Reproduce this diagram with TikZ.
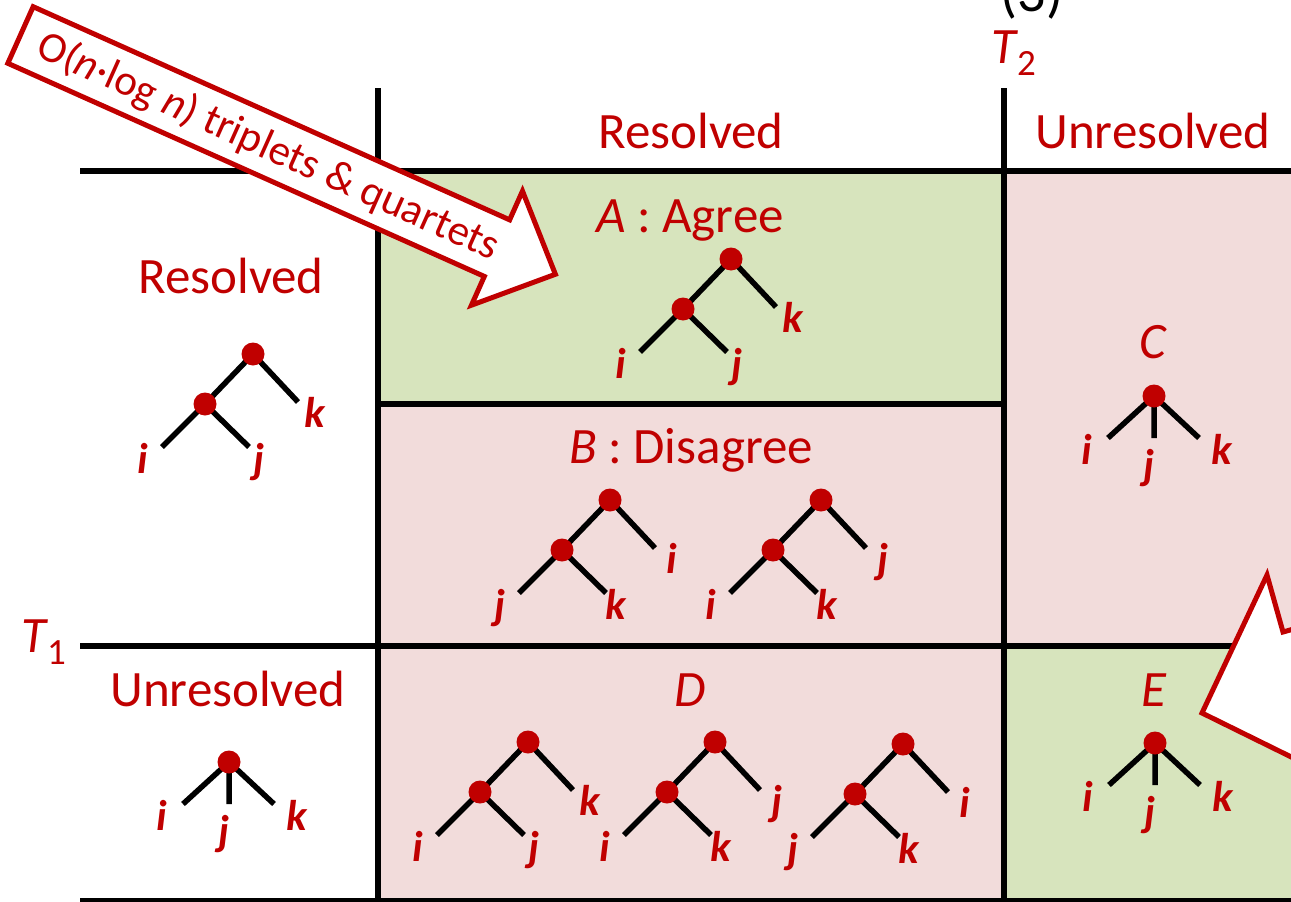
\documentclass[tikz,border=0pt]{standalone}
\usepackage{fontspec}
\setmainfont{Carlito}
\definecolor{tred}{HTML}{C00000}
\definecolor{agreefill}{HTML}{D7E4BD}
\definecolor{diffill}{HTML}{F2DCDB}
\newcommand\hfont{\fontsize{51}{51}\selectfont}
\newcommand\leaffont{\fontsize{43}{43}\selectfont\bfseries\itshape}
\newcommand\arrowfont{\fontsize{43}{43}\selectfont}
\newcommand\subfont{\fontsize{37}{37}\selectfont}
\tikzset{
  grid/.style={line width=5.5pt, draw=black},
  branch/.style={line width=5.5pt, draw=black},
  knot/.style={circle, fill=tred, inner sep=0pt, minimum size=23pt},
  leaf/.style={font=\leaffont, text=tred, inner sep=0pt, anchor=base},
  hdr/.style={font=\hfont, text=tred, inner sep=0pt, anchor=base},
  blockarrow/.style={draw=tred, fill=white, line width=5pt, line join=miter},
  % binary tree ((a,b),c): root at the origin
  pics/bintree/.style n args={3}{code={
    \coordinate (-r) at (0,0);
    \coordinate (-m) at (-48,50);
    \coordinate (-a) at (-91,93);
    \coordinate (-b) at (-4,93);
    \coordinate (-c) at (45,48);
    \draw[branch] (-r) -- (-m) (-m) -- (-a) (-m) -- (-b) (-r) -- (-c);
    \node[knot] (-rd) at (-r) {};
    \node[knot] (-md) at (-m) {};
    \node[leaf] (-la) at (-110,119) {#1};
    \node[leaf] (-lb) at (6,119) {#2};
    \node[leaf] (-lc) at (62,73) {#3};
  }},
  % star tree (i,j,k): centre at the origin
  pics/startree/.style={code={
    \coordinate (-r) at (0,0);
    \coordinate (-a) at (-46,42);
    \coordinate (-b) at (0,42);
    \coordinate (-c) at (45,42);
    \draw[branch] (-r) -- (-a) (-r) -- (-b) (-r) -- (-c);
    \node[knot] (-rd) at (-r) {};
    \node[leaf] (-la) at (-67,68) {i};
    \node[leaf] (-lb) at (-5,83) {j};
    \node[leaf] (-lc) at (68,68) {k};
  }}
}
\begin{document}
\begin{tikzpicture}[x=1pt, y=-1pt]
\useasboundingbox (0,0) rectangle (1291,902);
\clip (0,0) rectangle (1291,902);

% cell backgrounds
\fill[agreefill] (378,171) rectangle (1004,404);
\fill[diffill] (378,404) rectangle (1004,646);
\fill[diffill] (1004,171) rectangle (1291,646);
\fill[diffill] (378,646) rectangle (1004,902);
\fill[agreefill] (1004,646) rectangle (1291,902);

% table rules
\draw[grid] (80,171) -- (1291,171);
\draw[grid] (378,404) -- (1004,404);
\draw[grid] (80,646) -- (1291,646);
\draw[grid] (80,901) -- (1291,901);
\draw[grid] (378,88) -- (378,902);
\draw[grid] (1004,88) -- (1004,902);

% headers
\node[text=black, font=\fontsize{56}{56}\selectfont, inner sep=0pt, anchor=base] (title) at (1032,12) {(3)};
\node[text=tred, font=\hfont, inner sep=0pt, anchor=base west] (t2) at (991,63) {\textit{T}\kern-1pt\raisebox{-13pt}{\subfont 2}};
\node[text=tred, font=\hfont, inner sep=0pt, anchor=base west] (t1) at (21,652) {\textit{T}\kern-1pt\raisebox{-12pt}{\subfont 1}};
\node[hdr] (colres) at (691,148) {Resolved};
\node[hdr] (colunres) at (1153,148) {Unresolved};
\node[hdr] (rowres) at (231,293) {Resolved};
\node[hdr] (rowunres) at (228,706) {Unresolved};
\node[hdr] (lblA) at (690,232) {\textit{A} : Agree};
\node[hdr] (lblB) at (691,463) {\textit{B} : Disagree};
\node[hdr] (lblC) at (1153,358) {\textit{C}};
\node[hdr] (lblD) at (690,706) {\textit{D}};
\node[hdr] (lblE) at (1154,706) {\textit{E}};

% trees
\pic (tres) at (253,354) {bintree={i}{j}{k}};
\pic (ta) at (731,259) {bintree={i}{j}{k}};
\pic (tb1) at (610,500) {bintree={j}{k}{i}};
\pic (tb2) at (821,500) {bintree={i}{k}{j}};
\pic (td1) at (528,742) {bintree={i}{j}{k}};
\pic (td2) at (715,742) {bintree={i}{k}{j}};
\pic (td3) at (903,744) {bintree={j}{k}{i}};
\pic (tun) at (229,762) {startree};
\pic (tc) at (1154,396) {startree};
\pic (te) at (1155,743) {startree};

% block arrow with the running-time note
\begin{scope}[shift={(20.5,35)}, rotate=-24.1]
  \draw[blockarrow] (0,-31) -- (522,-31) -- (522,-62.5) -- (586,0)
    -- (522,62.5) -- (522,31) -- (0,31) -- cycle;
\end{scope}
\node[text=tred, font=\arrowfont, inner sep=0pt, rotate=-24.1] (note) at (268,147)
  {O(\textit{n}·log \textit{n}) triplets \& quartets};

% second block arrow entering from the right
\draw[blockarrow] (1340,616) -- (1283,632) -- (1267,575) -- (1202,713) -- (1340,781) -- cycle;
\end{tikzpicture}
\end{document}
